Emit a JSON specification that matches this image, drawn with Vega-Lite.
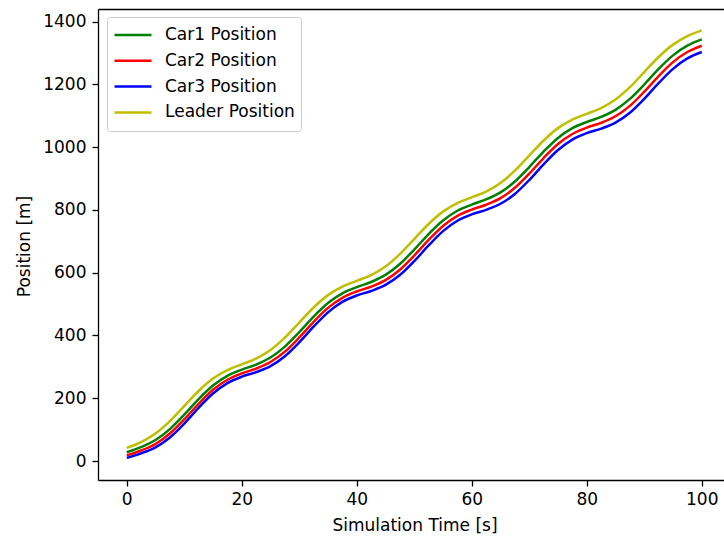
{
  "$schema": "https://vega.github.io/schema/vega-lite/v6.json",
  "width": 626,
  "height": 471,
  "autosize": {"type": "none"},
  "padding": {"left": 98, "top": 9, "right": 0, "bottom": 62},
  "background": "white",
  "config": {
    "view": {"stroke": null},
    "font": "DejaVu Sans",
    "axis": {
      "domain": true,
      "domainColor": "#000000",
      "domainWidth": 1.3,
      "grid": false,
      "tickColor": "#000000",
      "tickSize": 6,
      "tickWidth": 1.3,
      "labelFont": "DejaVu Sans",
      "labelFontSize": 17,
      "labelColor": "#000000",
      "labelPadding": 5,
      "titleFont": "DejaVu Sans",
      "titleFontSize": 17,
      "titleFontWeight": "normal",
      "titleColor": "#000000"
    },
    "legend": {
      "labelFont": "DejaVu Sans",
      "labelFontSize": 17,
      "labelColor": "#000000"
    }
  },
  "data": {
    "values": [
      {"t": 0, "Car1 Position": 28, "Car2 Position": 18, "Car3 Position": 10, "Leader Position": 42},
      {"t": 2.5, "Car1 Position": 44.3, "Car2 Position": 33.4, "Car3 Position": 24.5, "Leader Position": 60.4},
      {"t": 5, "Car1 Position": 66.8, "Car2 Position": 54.3, "Car3 Position": 43.7, "Leader Position": 87.5},
      {"t": 7.5, "Car1 Position": 101.5, "Car2 Position": 87.4, "Car3 Position": 75.1, "Leader Position": 126.9},
      {"t": 10, "Car1 Position": 147.5, "Car2 Position": 132.5, "Car3 Position": 119.3, "Leader Position": 175},
      {"t": 12.5, "Car1 Position": 197.0, "Car2 Position": 182.3, "Car3 Position": 169.4, "Leader Position": 223.1},
      {"t": 15, "Car1 Position": 240.3, "Car2 Position": 226.8, "Car3 Position": 215.0, "Leader Position": 262.5},
      {"t": 17.5, "Car1 Position": 271.2, "Car2 Position": 258.9, "Car3 Position": 248.2, "Leader Position": 289.6},
      {"t": 20, "Car1 Position": 291, "Car2 Position": 279, "Car3 Position": 268.6, "Leader Position": 308},
      {"t": 22.5, "Car1 Position": 307.3, "Car2 Position": 294.4, "Car3 Position": 283.1, "Leader Position": 326.4},
      {"t": 25, "Car1 Position": 329.8, "Car2 Position": 315.3, "Car3 Position": 302.3, "Leader Position": 353.5},
      {"t": 27.5, "Car1 Position": 364.5, "Car2 Position": 348.4, "Car3 Position": 333.7, "Leader Position": 392.9},
      {"t": 30, "Car1 Position": 410.5, "Car2 Position": 393.5, "Car3 Position": 377.9, "Leader Position": 441},
      {"t": 32.5, "Car1 Position": 460.0, "Car2 Position": 443.3, "Car3 Position": 428.0, "Leader Position": 489.1},
      {"t": 35, "Car1 Position": 503.3, "Car2 Position": 487.8, "Car3 Position": 473.6, "Leader Position": 528.5},
      {"t": 37.5, "Car1 Position": 534.2, "Car2 Position": 519.9, "Car3 Position": 506.8, "Leader Position": 555.6},
      {"t": 40, "Car1 Position": 554, "Car2 Position": 540, "Car3 Position": 527.2, "Leader Position": 574},
      {"t": 42.5, "Car1 Position": 570.3, "Car2 Position": 555.4, "Car3 Position": 541.7, "Leader Position": 592.4},
      {"t": 45, "Car1 Position": 592.8, "Car2 Position": 576.3, "Car3 Position": 560.9, "Leader Position": 619.5},
      {"t": 47.5, "Car1 Position": 627.5, "Car2 Position": 609.4, "Car3 Position": 592.3, "Leader Position": 658.9},
      {"t": 50, "Car1 Position": 673.5, "Car2 Position": 654.5, "Car3 Position": 636.5, "Leader Position": 707},
      {"t": 52.5, "Car1 Position": 723.0, "Car2 Position": 704.3, "Car3 Position": 686.6, "Leader Position": 755.1},
      {"t": 55, "Car1 Position": 766.3, "Car2 Position": 748.8, "Car3 Position": 732.2, "Leader Position": 794.5},
      {"t": 57.5, "Car1 Position": 797.2, "Car2 Position": 780.9, "Car3 Position": 765.4, "Leader Position": 821.6},
      {"t": 60, "Car1 Position": 817, "Car2 Position": 801, "Car3 Position": 785.8, "Leader Position": 840},
      {"t": 62.5, "Car1 Position": 833.3, "Car2 Position": 816.4, "Car3 Position": 800.3, "Leader Position": 858.4},
      {"t": 65, "Car1 Position": 855.8, "Car2 Position": 837.3, "Car3 Position": 819.5, "Leader Position": 885.5},
      {"t": 67.5, "Car1 Position": 890.5, "Car2 Position": 870.4, "Car3 Position": 850.9, "Leader Position": 924.9},
      {"t": 70, "Car1 Position": 936.5, "Car2 Position": 915.5, "Car3 Position": 895.1, "Leader Position": 973},
      {"t": 72.5, "Car1 Position": 986.0, "Car2 Position": 965.3, "Car3 Position": 945.2, "Leader Position": 1021.1},
      {"t": 75, "Car1 Position": 1029.3, "Car2 Position": 1009.8, "Car3 Position": 990.8, "Leader Position": 1060.5},
      {"t": 77.5, "Car1 Position": 1060.2, "Car2 Position": 1041.9, "Car3 Position": 1024.0, "Leader Position": 1087.6},
      {"t": 80, "Car1 Position": 1080, "Car2 Position": 1062, "Car3 Position": 1044.4, "Leader Position": 1106},
      {"t": 82.5, "Car1 Position": 1096.3, "Car2 Position": 1077.4, "Car3 Position": 1058.9, "Leader Position": 1124.4},
      {"t": 85, "Car1 Position": 1118.8, "Car2 Position": 1098.3, "Car3 Position": 1078.1, "Leader Position": 1151.5},
      {"t": 87.5, "Car1 Position": 1153.5, "Car2 Position": 1131.4, "Car3 Position": 1109.5, "Leader Position": 1190.9},
      {"t": 90, "Car1 Position": 1199.5, "Car2 Position": 1176.5, "Car3 Position": 1153.7, "Leader Position": 1239},
      {"t": 92.5, "Car1 Position": 1249.0, "Car2 Position": 1226.3, "Car3 Position": 1203.8, "Leader Position": 1287.1},
      {"t": 95, "Car1 Position": 1292.3, "Car2 Position": 1270.8, "Car3 Position": 1249.4, "Leader Position": 1326.5},
      {"t": 97.5, "Car1 Position": 1323.2, "Car2 Position": 1302.9, "Car3 Position": 1282.6, "Leader Position": 1353.6},
      {"t": 100, "Car1 Position": 1343, "Car2 Position": 1323, "Car3 Position": 1303, "Leader Position": 1372}
    ]
  },
  "transform": [
    {"fold": ["Car1 Position", "Car2 Position", "Car3 Position", "Leader Position"], "as": ["series", "position"]}
  ],
  "layer": [
    {
      "mark": {"type": "line", "strokeWidth": 2.5, "interpolate": "monotone", "clip": true},
      "encoding": {
        "x": {
          "field": "t",
          "type": "quantitative",
          "scale": {"domain": [-5, 103.87], "nice": false, "zero": false},
          "axis": {
            "values": [0, 20, 40, 60, 80, 100],
            "format": "d",
            "title": "Simulation Time [s]",
            "titleX": 316.5,
            "titleY": 45,
            "titleBaseline": "middle",
            "titleAlign": "center"
          }
        },
        "y": {
          "field": "position",
          "type": "quantitative",
          "scale": {"domain": [-60.5, 1440], "nice": false, "zero": false},
          "axis": {
            "values": [0, 200, 400, 600, 800, 1000, 1200, 1400],
            "format": "d",
            "labelPadding": 6,
            "title": "Position [m]",
            "titleX": -74,
            "titleY": 237,
            "titleAngle": -90,
            "titleBaseline": "middle",
            "titleAlign": "center"
          }
        },
        "color": {
          "field": "series",
          "type": "nominal",
          "scale": {
            "domain": ["Car1 Position", "Car2 Position", "Car3 Position", "Leader Position"],
            "range": ["#008000", "#ff0000", "#0000ff", "#bfbf00"]
          },
          "legend": {
            "title": null,
            "orient": "none",
            "legendX": 9,
            "legendY": 8,
            "symbolType": "stroke",
            "symbolSize": 1369,
            "symbolStrokeWidth": 2.5,
            "clipHeight": 24,
            "rowPadding": 1.8,
            "labelOffset": 12,
            "padding": 6,
            "fillColor": "rgba(255,255,255,0.8)",
            "strokeColor": "#cccccc",
            "cornerRadius": 3
          }
        }
      }
    },
    {
      "mark": {"type": "point", "opacity": 0},
      "encoding": {
        "x": {
          "field": "t",
          "type": "quantitative",
          "axis": {"orient": "top", "labels": false, "ticks": false, "title": null, "domain": true}
        }
      }
    }
  ],
  "resolve": {"axis": {"x": "independent"}}
}
